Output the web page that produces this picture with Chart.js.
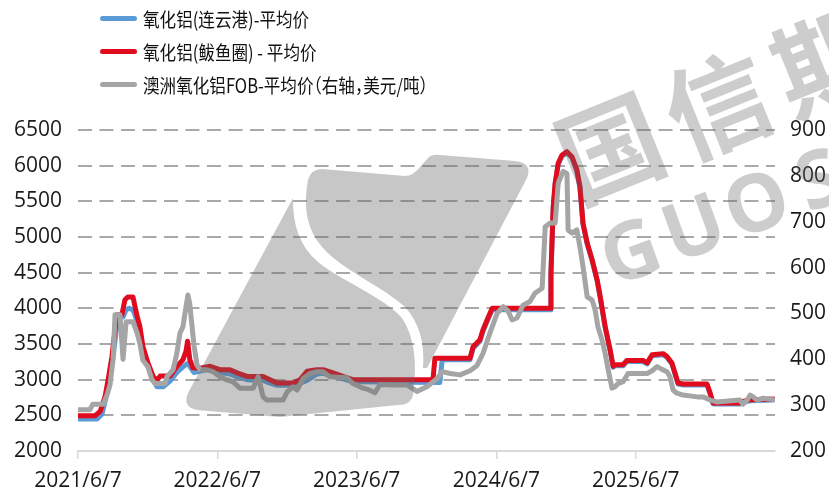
<!DOCTYPE html>
<html><head><meta charset="utf-8">
<script src="https://cdn.jsdelivr.net/npm/chart.js@4"></script>
<style>
html,body{margin:0;padding:0;background:#fff;}
#wrap{position:relative;width:829px;height:493px;overflow:hidden;}
#c{position:absolute;left:0;top:0;}
#legend{position:absolute;left:100px;top:2px;font-family:"Noto Sans CJK SC","Noto Sans";font-size:19.5px;color:#111;font-feature-settings:"halt";}
.item{height:33px;display:flex;align-items:center;white-space:nowrap;}
.sw{width:37px;height:5px;border-radius:2.5px;margin-right:6px;flex:none;}
.tx{display:inline-block;transform:scaleX(0.85);transform-origin:0 50%;}
</style></head><body>
<div id="wrap"><canvas id="c" width="829" height="493"></canvas><div id="legend"></div></div>
<script>
const labelBlue = '氧化铝(连云港)-平均价';
const labelRed = '氧化铝(鲅鱼圈) - 平均价';
const labelGray = '澳洲氧化铝FOB-平均价（右轴，美元/吨）';

const xTickDates = ['2021-06-07','2022-06-07','2023-06-07','2024-06-07','2025-06-07'];
const xTickLabels = ['2021/6/7','2022/6/7','2023/6/7','2024/6/7','2025/6/7'];
const axisStartDate = '2021-06-07';
const axisEndDate = '2026-06-07';
const leftMin = 2000, leftMax = 6500, leftStep = 500;
const rightMin = 200, rightMax = 900, rightStep = 100;

const redDates = ['2021-06-07','2021-07-22','2021-08-04','2021-08-17','2021-08-25','2021-09-04','2021-09-12','2021-09-17','2021-09-30','2021-10-08','2021-10-16','2021-10-29','2021-11-09','2021-11-16','2021-11-24','2021-12-07','2021-12-21','2021-12-31','2022-01-08','2022-02-03','2022-02-21','2022-03-09','2022-03-17','2022-03-21','2022-03-27','2022-04-04','2022-04-23','2022-05-19','2022-06-14','2022-07-10','2022-07-29','2022-08-24','2022-10-05','2022-10-23','2022-11-10','2022-12-22','2023-01-10','2023-01-28','2023-02-23','2023-03-11','2023-04-06','2023-05-02','2023-05-28','2023-12-24','2023-12-29','2024-03-30','2024-04-07','2024-04-25','2024-05-03','2024-05-14','2024-05-27','2024-10-26','2024-10-28','2024-10-31','2024-11-03','2024-11-08','2024-11-16','2024-11-26','2024-12-09','2024-12-22','2025-01-04','2025-01-12','2025-01-20','2025-01-31','2025-02-13','2025-02-26','2025-03-06','2025-03-19','2025-04-01','2025-04-09','2025-04-14','2025-05-05','2025-05-15','2025-06-26','2025-07-07','2025-07-20','2025-08-18','2025-08-28','2025-09-10','2025-09-18','2025-09-26','2025-10-09','2025-12-11','2025-12-19','2025-12-24','2025-12-27','2026-03-07','2026-03-15','2026-04-03','2026-06-02'];
const redValues = [2495,2495,2555,2766,3000,3327,3700,3910,3910,4120,4160,4160,3886,3746,3466,3237,3045,2990,3050,3050,3187,3280,3400,3540,3280,3166,3160,3187,3140,3140,3095,3045,3045,3000,2955,2955,3000,3117,3140,3140,3095,3045,3000,3000,3300,3300,3460,3560,3700,3840,4000,4000,4490,4960,5426,5753,6033,6150,6196,6126,5940,5706,5193,4915,4680,4400,4166,3746,3420,3187,3210,3210,3270,3270,3235,3350,3365,3326,3233,3093,2953,2940,2940,2813,2720,2673,2673,2696,2720,2730];

const blueDates = ['2021-06-07','2021-07-27','2021-08-09','2021-08-19','2021-08-27','2021-09-07','2021-09-15','2021-09-20','2021-10-03','2021-10-11','2021-10-19','2021-10-29','2021-11-09','2021-11-16','2021-11-24','2021-12-07','2021-12-21','2021-12-31','2022-01-16','2022-02-03','2022-02-21','2022-03-09','2022-03-22','2022-03-30','2022-04-07','2022-04-23','2022-05-19','2022-06-14','2022-07-10','2022-07-29','2022-08-24','2022-10-05','2022-10-23','2022-11-10','2022-12-22','2023-01-10','2023-01-28','2023-02-23','2023-03-11','2023-04-06','2023-05-02','2023-05-28','2024-01-11','2024-01-17','2024-03-30','2024-04-07','2024-04-25','2024-05-03','2024-05-14','2024-05-27','2024-10-26','2024-10-28','2024-10-31','2024-11-03','2024-11-08','2024-11-16','2024-11-26','2024-12-09','2024-12-22','2025-01-04','2025-01-12','2025-01-20','2025-01-31','2025-02-13','2025-02-26','2025-03-06','2025-03-19','2025-04-01','2025-04-09','2025-04-14','2025-05-05','2025-05-15','2025-06-26','2025-07-07','2025-07-20','2025-08-18','2025-08-28','2025-09-10','2025-09-18','2025-09-26','2025-10-09','2025-12-11','2025-12-19','2025-12-24','2025-12-27','2026-03-07','2026-03-15','2026-04-03','2026-06-02'];
const blueValues = [2450,2450,2520,2740,3000,3330,3680,3880,3880,3980,4000,3980,3820,3700,3420,3200,3000,2900,2900,2980,3100,3180,3230,3160,3100,3120,3150,3100,3080,3040,3000,2990,2950,2920,2920,2950,2990,3080,3090,3050,3010,2970,2960,3280,3280,3440,3540,3680,3820,3980,3980,4475,4945,5411,5738,6018,6135,6180,6110,5925,5691,5178,4900,4665,4385,4151,3731,3405,3172,3195,3195,3255,3255,3220,3335,3350,3311,3218,3078,2938,2925,2925,2798,2705,2658,2658,2681,2705,2715];

const grayDates = ['2021-06-07','2021-07-08','2021-07-16','2021-08-12','2021-08-22','2021-08-30','2021-09-07','2021-09-12','2021-09-25','2021-10-03','2021-10-11','2021-10-29','2021-11-09','2021-11-16','2021-11-24','2021-12-07','2021-12-18','2021-12-26','2022-01-21','2022-01-26','2022-02-11','2022-02-21','2022-03-01','2022-03-09','2022-03-17','2022-03-22','2022-03-27','2022-04-02','2022-04-07','2022-04-15','2022-04-23','2022-05-11','2022-05-27','2022-06-14','2022-07-02','2022-07-18','2022-08-05','2022-09-09','2022-09-22','2022-10-05','2022-10-15','2022-11-26','2022-12-07','2022-12-22','2023-01-02','2023-01-18','2023-02-05','2023-02-23','2023-03-11','2023-03-29','2023-05-13','2023-05-28','2023-06-24','2023-07-04','2023-07-25','2023-08-07','2023-09-10','2023-10-17','2023-11-12','2023-12-08','2024-01-04','2024-01-17','2024-02-07','2024-03-04','2024-03-30','2024-04-17','2024-05-03','2024-05-21','2024-06-09','2024-06-25','2024-07-08','2024-07-18','2024-07-31','2024-08-16','2024-09-03','2024-09-16','2024-10-05','2024-10-13','2024-10-26','2024-11-08','2024-11-16','2024-11-29','2024-12-09','2024-12-12','2024-12-22','2025-01-04','2025-01-12','2025-01-20','2025-01-31','2025-02-13','2025-02-21','2025-02-28','2025-03-11','2025-03-19','2025-03-27','2025-04-06','2025-04-14','2025-04-22','2025-05-05','2025-05-18','2025-07-07','2025-07-20','2025-08-02','2025-08-15','2025-08-28','2025-09-05','2025-09-13','2025-09-23','2025-10-09','2025-11-15','2025-12-01','2025-12-19','2026-01-06','2026-03-07','2026-03-15','2026-03-26','2026-04-03','2026-04-11','2026-04-21','2026-05-07','2026-06-02'];
const grayValues = [290,290,302,302,322,345,400,497,497,400,482,482,457,435,398,384,355,347,347,362,377,413,457,471,515,540,520,470,430,387,377,377,373,362,355,351,337,337,362,318,311,311,329,340,333,358,369,373,373,362,360,347,337,335,327,345,344,344,330,340,358,373,369,366,375,386,413,457,500,515,505,486,490,518,526,544,555,689,697,697,784,810,805,682,675,682,645,602,536,529,507,471,442,413,377,337,340,347,351,369,369,375,384,378,373,362,333,326,322,318,318,311,307,311,302,311,322,318,311,315,312];

const BLUE = '#5b9bd5', RED = '#e00b1c', GRAY = '#a5a5a5';

function dayOf(s){
  const p = s.split('-').map(Number);
  const a = axisStartDate.split('-').map(Number);
  return (Date.UTC(p[0],p[1]-1,p[2]) - Date.UTC(a[0],a[1]-1,a[2]))/86400000;
}
function pts(dates, vals){ return dates.map((d,i)=>({x:dayOf(d), y:vals[i]})); }

const datasets = [
  {label:labelBlue, data:pts(blueDates,blueValues), borderColor:BLUE, yAxisID:'y', order:2},
  {label:labelRed, data:pts(redDates,redValues), borderColor:RED, yAxisID:'y', order:1},
  {label:labelGray, data:pts(grayDates,grayValues), borderColor:GRAY, yAxisID:'y1', order:0}
].map(d=>Object.assign(d,{borderWidth:5, pointRadius:0, tension:0, fill:false, borderJoinStyle:'round', borderCapStyle:'round'}));

const lg = document.getElementById('legend');
datasets.forEach(d=>{
  const it = document.createElement('div'); it.className='item';
  const sw = document.createElement('div'); sw.className='sw'; sw.style.background=d.borderColor;
  const tx = document.createElement('span'); tx.className='tx'; tx.textContent=d.label;
  it.appendChild(sw); it.appendChild(tx); lg.appendChild(it);
});

const tickDays = xTickDates.map(dayOf);
const tickFont = {family:'"Open Sans"', size:21};

const watermark = {
  id:'watermark',
  afterDraw(chart){
    const c = chart.ctx;
    c.save();
    c.fillStyle = 'rgba(100,100,100,0.36)';
    c.beginPath();
    c.moveTo(293,198);
    c.quadraticCurveTo(292,240,318,262);
    c.bezierCurveTo(340,280,385,298,402,318);
    c.quadraticCurveTo(420,345,413,395);
    c.quadraticCurveTo(411,405,398,405);
    c.lineTo(280,417);
    c.lineTo(197,410);
    c.quadraticCurveTo(182,407,188,393);
    c.closePath();
    c.fill();
    c.beginPath();
    c.moveTo(308,180);
    c.quadraticCurveTo(311,169,322,169);
    c.lineTo(405,176);
    c.quadraticCurveTo(413,176,420,167);
    c.lineTo(428,158);
    c.quadraticCurveTo(432,154,440,155);
    c.lineTo(515,161);
    c.quadraticCurveTo(533,163,527,178);
    c.lineTo(427,368);
    c.lineTo(423,368);
    c.quadraticCurveTo(426,330,405,307);
    c.bezierCurveTo(385,288,342,270,322,247);
    c.quadraticCurveTo(300,222,308,180);
    c.closePath();
    c.fill();
    c.fillStyle = 'rgba(100,100,100,0.32)';
    c.textAlign='center'; c.textBaseline='middle';
    const ang = -22*Math.PI/180;
    c.font = 'bold 104px "Noto Sans CJK SC"';
    '国信期货'.split('').forEach((ch,i)=>{
      c.save(); c.translate(610+i*108, 148-i*43); c.rotate(ang); c.fillText(ch,0,0); c.restore();
    });
    c.font = 'bold 80px "Open Sans"';
    'GUOSEN'.split('').forEach((ch,i)=>{
      c.save(); c.translate(632+i*63, 256-i*24); c.rotate(-20*Math.PI/180); c.fillText(ch,0,0); c.restore();
    });
    c.restore();
  }
};

new Chart(document.getElementById('c'), {
  type:'line',
  data:{datasets},
  plugins:[watermark],
  options:{
    responsive:false, animation:false,
    layout:{padding:{top:130,left:0,right:0,bottom:0}},
    plugins:{legend:{display:false}, tooltip:{enabled:false}},
    scales:{
      x:{
        type:'linear', min:0, max:dayOf(axisEndDate),
        afterBuildTicks(s){ s.ticks = tickDays.map(v=>({value:v})); },
        afterFit(s){ s.height = 42; },
        ticks:{autoSkip:false, maxRotation:0, padding:9, color:'#1a1a1a', font:tickFont,
          callback(v){ const i = tickDays.indexOf(v); return i>=0 ? xTickLabels[i] : ''; }},
        grid:{drawOnChartArea:false, drawTicks:true, tickLength:8, color:'#d9d9d9', lineWidth:1.5},
        border:{color:'#d9d9d9', width:2}
      },
      y:{
        position:'left', min:leftMin, max:leftMax,
        afterFit(s){ s.width = 78; },
        ticks:{stepSize:leftStep, padding:16, color:'#1a1a1a', font:tickFont, callback(v){ return String(v); }},
        grid:{drawTicks:false, lineWidth:2, color(ctx){ return ctx.tick && ctx.tick.value===leftMin ? 'rgba(0,0,0,0)' : '#a9a9a9'; }},
        border:{display:false, dash:[14,7.5]}
      },
      y1:{
        position:'right', min:rightMin, max:rightMax,
        afterFit(s){ s.width = 54; },
        ticks:{stepSize:rightStep, padding:15, color:'#1a1a1a', font:tickFont, callback(v){ return String(v); }},
        grid:{display:false, drawTicks:false},
        border:{display:false}
      }
    }
  }
});
</script>
</body></html>
